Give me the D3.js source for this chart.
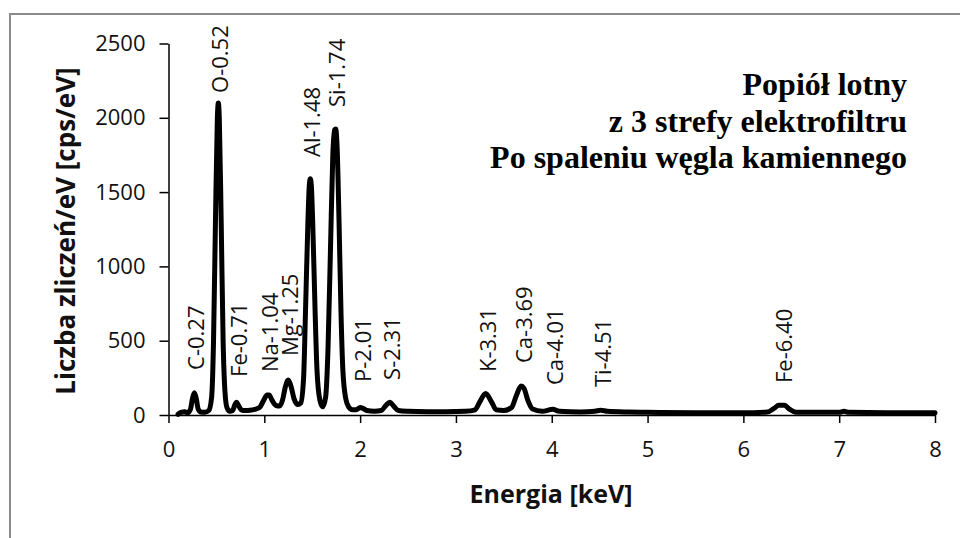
<!DOCTYPE html>
<html>
<head>
<meta charset="utf-8">
<script src="https://cdn.jsdelivr.net/npm/d3@7"></script>
<style>
  body { margin: 0; background: #fff; }
  svg { display: block; }
</style>
</head>
<body>
<script>
// EDS spectrum
var energy = [0.10, 0.13, 0.17, 0.20, 0.23, 0.25, 0.27, 0.29, 0.31, 0.34, 0.38,
  0.42, 0.45, 0.47, 0.49, 0.51, 0.52, 0.53, 0.55, 0.57, 0.59, 0.61, 0.64, 0.67,
  0.69, 0.71, 0.73, 0.76, 0.80, 0.85, 0.90, 0.95, 0.99, 1.03, 1.05, 1.08, 1.12,
  1.16, 1.19, 1.22, 1.25, 1.28, 1.31, 1.35, 1.38, 1.41, 1.43, 1.455, 1.47, 1.48,
  1.49, 1.505, 1.53, 1.55, 1.58, 1.61, 1.64, 1.665, 1.69, 1.715, 1.735, 1.745,
  1.76, 1.78, 1.80, 1.82, 1.85, 1.88, 1.92, 1.96, 2.00, 2.03, 2.07, 2.15, 2.22,
  2.27, 2.31, 2.35, 2.40, 2.50, 2.70, 2.90, 3.10, 3.20, 3.25, 3.31, 3.37, 3.42,
  3.50, 3.58, 3.63, 3.68, 3.71, 3.75, 3.80, 3.90, 4.01, 4.08, 4.30, 4.45, 4.51,
  4.58, 4.80, 5.00, 5.50, 6.00, 6.25, 6.32, 6.37, 6.43, 6.48, 6.55, 7.00, 7.05,
  7.10, 7.50, 8.00];
var counts = [5, 18, 22, 15, 40, 110, 150, 110, 40, 20, 18,
  30, 120, 500, 1300, 2000, 2100, 2000, 1300, 500, 150, 50, 25, 30,
  65, 85, 65, 35, 30, 32, 38, 50, 95, 135, 135, 100, 65,
  60, 100, 190, 235, 190, 110, 70, 80, 250, 700, 1300, 1550, 1590,
  1550, 1300, 700, 300, 100, 55, 120, 450, 1100, 1750, 1920, 1925,
  1800, 1300, 700, 300, 110, 55, 35, 35, 50, 45, 30, 25, 30,
  65, 85, 60, 30, 25, 22, 22, 25, 35, 90, 145, 90, 35,
  30, 50, 130, 195, 180, 100, 40, 25, 38, 25, 20, 25, 32,
  25, 20, 18, 15, 15, 20, 45, 65, 65, 40, 18, 18, 25,
  18, 15, 15];

// peak annotations
var peakLabels = ["C-0.27", "O-0.52", "Fe-0.71", "Na-1.04", "Mg-1.25", "Al-1.48", "Si-1.74",
  "P-2.01", "S-2.31", "K-3.31", "Ca-3.69", "Ca-4.01", "Ti-4.51", "Fe-6.40"];
var peakEnergy = [0.27, 0.52, 0.71, 1.04, 1.25, 1.48, 1.74, 2.01, 2.31, 3.31, 3.69, 4.01, 4.51, 6.40];
var labelBase = [303, 2167, 256, 289, 397, 1736, 2073, 222, 236, 289, 350, 202, 188, 215];

var xTicks = [0, 1, 2, 3, 4, 5, 6, 7, 8];
var yTicks = [0, 500, 1000, 1500, 2000, 2500];
var titleLines = ["Popiół lotny", "z 3 strefy elektrofiltru", "Po spaleniu węgla kamiennego"];

var w = 960;
var h = 538;
var sans = "'Open Sans', sans-serif";

var svg = d3.select("body")
  .append("svg")
  .attr("width", w)
  .attr("height", h);

// chart frame (cropped on right and bottom)
svg.append("rect")
  .attr("x", 10)
  .attr("y", 14)
  .attr("width", w + 50)
  .attr("height", h + 50)
  .attr("fill", "none")
  .attr("stroke", "#8a8a8a")
  .attr("stroke-width", 2);

var x = d3.scaleLinear().domain([0, 8]).range([168.5, 935]);
var y = d3.scaleLinear().domain([0, 2500]).range([415, 43.5]);

var xAxis = svg.append("g")
  .attr("transform", "translate(0," + y(0) + ")")
  .call(d3.axisBottom(x).tickValues(xTicks).tickSize(8).tickPadding(18).tickSizeOuter(0));

var yAxis = svg.append("g")
  .attr("transform", "translate(" + x(0) + ",0)")
  .call(d3.axisLeft(y).tickValues(yTicks).tickFormat(d3.format("d"))
    .tickSize(9).tickPadding(14).tickSizeOuter(0));

[xAxis, yAxis].forEach(function(g) {
  g.select(".domain").attr("stroke", "#000").attr("stroke-width", 1.5);
  g.selectAll(".tick line").attr("stroke", "#000").attr("stroke-width", 1.5);
  g.selectAll(".tick text")
    .attr("font-family", sans)
    .attr("font-size", "22px")
    .attr("fill", "#111");
});

// spectrum
var points = energy.map(function(e, i) { return [e, counts[i]]; });

svg.append("path")
  .datum(points)
  .attr("fill", "none")
  .attr("stroke", "#000")
  .attr("stroke-width", 5)
  .attr("stroke-linejoin", "round")
  .attr("stroke-linecap", "round")
  .attr("d", d3.line()
    .x(function(d) { return x(d[0]); })
    .y(function(d) { return y(d[1]); })
    .curve(d3.curveMonotoneX));

// peak labels, vertical
svg.selectAll("text.peak")
  .data(peakLabels)
  .enter()
  .append("text")
  .attr("class", "peak")
  .attr("transform", function(d, i) {
    return "translate(" + (x(peakEnergy[i]) + 10) + "," + y(labelBase[i]) + ") rotate(-90)";
  })
  .attr("font-family", sans)
  .attr("font-size", "22px")
  .attr("fill", "#111")
  .text(function(d) { return d; });

// axis titles
svg.append("text")
  .attr("x", 551)
  .attr("y", 503)
  .attr("text-anchor", "middle")
  .attr("font-family", sans)
  .attr("font-weight", "bold")
  .attr("font-size", "25px")
  .attr("fill", "#111")
  .text("Energia [keV]");

svg.append("text")
  .attr("transform", "translate(75,231) rotate(-90)")
  .attr("text-anchor", "middle")
  .attr("font-family", sans)
  .attr("font-weight", "bold")
  .attr("font-size", "26px")
  .attr("fill", "#111")
  .text("Liczba zliczeń/eV [cps/eV]");

// title block
svg.selectAll("text.title")
  .data(titleLines)
  .enter()
  .append("text")
  .attr("class", "title")
  .attr("x", 907)
  .attr("y", function(d, i) { return 95 + i * 36.5; })
  .attr("text-anchor", "end")
  .attr("font-family", "'Liberation Serif', serif")
  .attr("font-weight", "bold")
  .attr("font-size", "32px")
  .attr("fill", "#000")
  .text(function(d) { return d; });
</script>
</body>
</html>
